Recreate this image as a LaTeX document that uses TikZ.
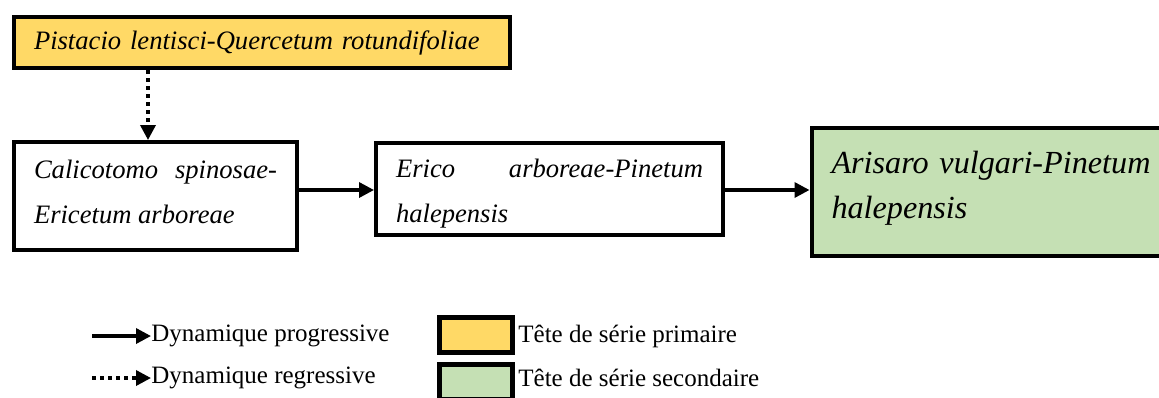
\documentclass[tikz,border=0pt]{standalone}
\usepackage{fontspec}
\setmainfont{Liberation Serif}
\usetikzlibrary{
  arrows.meta,
  positioning
}
\definecolor{primyellow}{HTML}{FFD966}
\definecolor{secgreen}{HTML}{C5E0B4}

\begin{document}
\begin{tikzpicture}[
      x=0.5pt, y=-0.5pt,
      box/.style={
        rectangle, draw=black, line width=2pt,
        inner xsep=10pt, inner ysep=0pt, anchor=north west,
        font=\fontsize{13.3}{22.5}\selectfont\itshape, align=justify
      },
      arrow/.style={-{Triangle[length=7.5pt, width=7.5pt]}, line width=1.7pt},
      dotarrow/.style={arrow, dash pattern=on 2pt off 2pt},
      legtext/.style={inner sep=0pt, anchor=west, font=\fontsize{12.5}{15}\selectfont},
      legsq/.style={
        rectangle, draw=black, line width=2.5pt, inner sep=0pt,
        minimum width=36.5pt, minimum height=17.5pt
      }
    ]
      \useasboundingbox (0,0) rectangle (1159,397);

      % series
      \node[box, fill=primyellow, align=left, text width=228pt, minimum height=25.5pt] (pistacio) at (12,15)
        {Pistacio lentisci-Quercetum rotundifoliae};
      \node[box, text width=121.5pt, minimum height=54pt, text depth=26.5pt] (calico) at (12,140)
        {Calicotomo spinosae-\linebreak Ericetum arboreae};
      \node[box, text width=153.5pt, minimum height=46pt, text height=14.1pt] (erico) at (374,141)
        {Erico arboreae-Pinetum\linebreak halepensis};
      \node[box, fill=secgreen, align=left, text width=170pt, minimum height=64pt, text depth=28.9pt,
        font=\fontsize{16.1}{22.5}\selectfont\itshape] (arisaro) at (809.5,125.5)
        {Arisaro vulgari-Pinetum\\halepensis};

      \coordinate (dropline) at (148,0);
      \coordinate (flowline) at (0,190);
      \draw[dotarrow] (pistacio.south -| dropline) -- (calico.north -| dropline);
      \draw[arrow] (calico.east |- flowline) -- (erico.west |- flowline);
      \draw[arrow] (erico.east |- flowline) -- (arisaro.west |- flowline);

      % legend
      \coordinate (progstart) at (92,336);
      \coordinate (regstart) at (92,378);
      \node[legtext] (progtxt) at (151,336) {Dynamique progressive};
      \node[legtext] (regtxt) at (151,378) {Dynamique regressive};
      \draw[arrow] (progstart) -- (progtxt.west);
      \draw[dotarrow] (regstart) -- (regtxt.west);

      \node[legsq, fill=primyellow] (primsq) at (476,335) {};
      \node[legsq, fill=secgreen] (secsq) at (476,382) {};
      \node[legtext] (primtxt) at (518,336) {Tête de série primaire};
      \node[legtext] (sectxt) at (518,378) {Tête de série secondaire};
    \end{tikzpicture}
\end{document}
